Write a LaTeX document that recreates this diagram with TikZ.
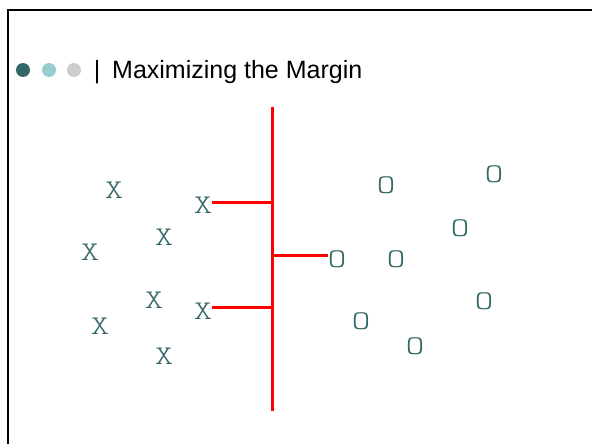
\documentclass[tikz,border=0pt]{standalone}
\usepackage{fontspec}
\setmainfont{Liberation Sans}
\newfontfamily\ptfont[FakeStretch=1.3]{Latin Modern Mono Light}
\definecolor{teal1}{HTML}{336666}
\definecolor{teal2}{HTML}{99CCCC}
\definecolor{grey1}{HTML}{CCCCCC}
\definecolor{margred}{HTML}{FF0000}
\tikzset{
  pt/.style={text=teal1, font=\ptfont\fontsize{27}{27}\selectfont, inner sep=0pt},
  dotc/.style={circle, inner sep=0pt, minimum size=14pt},
  redline/.style={draw=margred, line width=3pt},
}
\begin{document}
\begin{tikzpicture}[x=1pt,y=-1pt]
\useasboundingbox (0,0) rectangle (592,444);
% frame
\draw[line width=2.5pt] (8,444) -- (8,10) -- (592,10);
% title
\node[dotc, fill=teal1] (d1) at (23,70) {};
\node[dotc, fill=teal2] (d2) at (49,70) {};
\node[dotc, fill=grey1] (d3) at (74,70) {};
\node[font=\fontsize{25}{25}\selectfont, inner sep=0pt, anchor=base] (bar) at (97,78) {|};
\node[font=\fontsize{25}{25}\selectfont, inner sep=0pt, anchor=base west] (title) at (112,78) {Maximizing the Margin};
% X points
\node[pt] (x1) at (114,190) {X};
\node[pt] (x2) at (203,205) {X};
\node[pt] (x3) at (164,237) {X};
\node[pt] (x4) at (90,252) {X};
\node[pt] (x5) at (154,300) {X};
\node[pt] (x6) at (203,311) {X};
\node[pt] (x7) at (100,326) {X};
\node[pt] (x8) at (164,356) {X};
% O points
\node[pt] (o1) at (386,185) {O};
\node[pt] (o2) at (494,174) {O};
\node[pt] (o3) at (460,228) {O};
\node[pt] (o4) at (337,259) {O};
\node[pt] (o5) at (396,259) {O};
\node[pt] (o6) at (484,301) {O};
\node[pt] (o7) at (361,321) {O};
\node[pt] (o8) at (415,346) {O};
% separator
\coordinate (top) at (272,107);
\coordinate (bot) at (272,411);
\draw[redline] (top) -- (bot);
\draw[redline] ([yshift=3pt]x2.east) -- ([yshift=3pt]x2.east -| top);
\draw[redline] ([yshift=4pt]x6.east) -- ([yshift=4pt]x6.east -| top);
\draw[redline] ([yshift=4pt]o4.west) -- ([yshift=4pt]o4.west -| top);
\end{tikzpicture}
\end{document}
